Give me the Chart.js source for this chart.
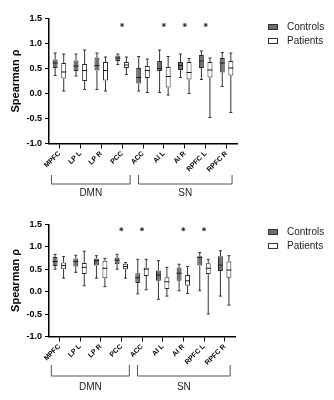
<!DOCTYPE html>
<html>
<head>
<meta charset="utf-8">
<script src="https://cdn.jsdelivr.net/npm/chart.js@4.4.0/dist/chart.umd.min.js"></script>
<style>
  html, body { margin: 0; padding: 0; background: #fff; }
  body { width: 334px; height: 400px; position: relative; overflow: hidden; font-family: "Liberation Sans", Arial, sans-serif; }
  canvas { position: absolute; left: 0; }
  .legend { position: absolute; left: 268px; font-size: 10px; color: #222; }
  .legend div { position: relative; height: 14.4px; line-height: 14.4px; padding-left: 19px; white-space: nowrap; }
  .legend span { position: absolute; left: 0; top: 4.5px; width: 8px; height: 4px; border: 1px solid #333; }
</style>
</head>
<body>
<canvas id="topChart" width="334" height="200" style="top:0"></canvas>
<canvas id="bottomChart" width="334" height="200" style="top:200px"></canvas>
<div class="legend" style="top:19.5px">
  <div><span style="background:#6f6f6f"></span>Controls</div>
  <div><span style="background:#fff"></span>Patients</div>
</div>
<div class="legend" style="top:224.5px">
  <div><span style="background:#6f6f6f"></span>Controls</div>
  <div><span style="background:#fff"></span>Patients</div>
</div>
<script>
// regions on the x axis and the networks they belong to
const categories = ["MPFC", "LP L", "LP R", "PCC", "ACC", "AI L", "AI R", "RPFC L", "RPFC R"];
const groupNames = ["DMN", "SN"];
const groupFirst = [0, 4];
const groupLast = [3, 8];
const yTicks = [-1.0, -0.5, 0.0, 0.5, 1.0, 1.5];

// each box is [min, q1, median, q3, max]
const topControls = [
  [0.36, 0.51, 0.61, 0.68, 0.81],
  [0.35, 0.45, 0.55, 0.66, 0.79],
  [0.08, 0.46, 0.56, 0.72, 0.81],
  [0.58, 0.65, 0.71, 0.76, 0.79],
  [0.05, 0.20, 0.32, 0.51, 0.74],
  [0.02, 0.45, 0.50, 0.65, 0.87],
  [0.32, 0.47, 0.56, 0.63, 0.79],
  [0.28, 0.51, 0.65, 0.77, 0.85],
  [0.14, 0.42, 0.61, 0.71, 0.82]
];
const topPatients = [
  [0.05, 0.30, 0.43, 0.61, 0.79],
  [0.08, 0.25, 0.46, 0.59, 0.87],
  [0.05, 0.26, 0.46, 0.63, 0.73],
  [0.38, 0.51, 0.57, 0.63, 0.73],
  [0.02, 0.31, 0.46, 0.55, 0.69],
  [-0.03, 0.12, 0.34, 0.53, 0.74],
  [0.00, 0.28, 0.42, 0.63, 0.70],
  [-0.48, 0.32, 0.47, 0.63, 0.71],
  [-0.38, 0.36, 0.51, 0.65, 0.81]
];
const topStars = [null, null, null, 1.37, null, 1.37, 1.37, 1.37, null];

const bottomControls = [
  [0.50, 0.57, 0.67, 0.77, 0.83],
  [0.43, 0.56, 0.67, 0.74, 0.81],
  [0.30, 0.58, 0.69, 0.74, 0.80],
  [0.50, 0.61, 0.70, 0.76, 0.83],
  [-0.05, 0.19, 0.31, 0.41, 0.72],
  [-0.17, 0.24, 0.37, 0.47, 0.69],
  [0.02, 0.24, 0.41, 0.54, 0.61],
  [0.02, 0.58, 0.76, 0.79, 0.87],
  [-0.10, 0.46, 0.59, 0.79, 0.91]
];
const bottomPatients = [
  [0.30, 0.50, 0.58, 0.65, 0.78],
  [0.13, 0.39, 0.54, 0.64, 0.90],
  [0.11, 0.30, 0.52, 0.69, 0.74],
  [0.30, 0.50, 0.56, 0.62, 0.65],
  [0.04, 0.35, 0.50, 0.54, 0.72],
  [-0.10, 0.06, 0.22, 0.32, 0.54],
  [-0.04, 0.13, 0.24, 0.37, 0.56],
  [-0.50, 0.39, 0.52, 0.63, 0.72],
  [-0.30, 0.31, 0.48, 0.67, 0.80]
];
const bottomStars = [null, null, null, 1.39, 1.39, null, 1.39, 1.39, null];

Chart.defaults.font.family = '"Liberation Sans", Arial, sans-serif';

// how far each bracket reaches past its first/last category centre (px)
const bracketPad = [[8, 8], [4.5, 5.5]];

// whiskers, caps and median lines on top of the floating bars
const boxWhiskers = {
  id: "boxWhiskers",
  afterDatasetsDraw(chart) {
    const ctx = chart.ctx;
    const y = chart.scales.y;
    [0, 1].forEach(di => {
      const ds = chart.data.datasets[di];
      chart.getDatasetMeta(di).data.forEach((bar, i) => {
        const [mn, q1, md, q3, mx] = ds.stats[i];
        const x = bar.x;
        const half = bar.width / 2;
        ctx.save();
        ctx.strokeStyle = "#333";
        ctx.lineWidth = 1;
        ctx.beginPath();
        ctx.moveTo(x, y.getPixelForValue(q3));
        ctx.lineTo(x, y.getPixelForValue(mx));
        ctx.moveTo(x, y.getPixelForValue(q1));
        ctx.lineTo(x, y.getPixelForValue(mn));
        ctx.moveTo(x - 1.5, y.getPixelForValue(mx));
        ctx.lineTo(x + 1.5, y.getPixelForValue(mx));
        ctx.moveTo(x - 1.5, y.getPixelForValue(mn));
        ctx.lineTo(x + 1.5, y.getPixelForValue(mn));
        ctx.stroke();
        ctx.beginPath();
        ctx.strokeStyle = "#1a1a1a";
        ctx.moveTo(x - half, y.getPixelForValue(md));
        ctx.lineTo(x + half, y.getPixelForValue(md));
        ctx.stroke();
        ctx.restore();
      });
    });
  }
};

// DMN / SN brackets under the rotated tick labels
const groupBrackets = {
  id: "groupBrackets",
  afterDraw(chart, args, opts) {
    const { ctx, chartArea, scales: { x } } = chart;
    const [dTop, dBot, dText] = opts.offsets;
    ctx.save();
    ctx.strokeStyle = "#555";
    ctx.lineWidth = 1;
    ctx.fillStyle = "#222";
    ctx.font = '10px "Liberation Sans", Arial, sans-serif';
    ctx.textAlign = "center";
    ctx.textBaseline = "middle";
    groupNames.forEach((name, g) => {
      const x0 = x.getPixelForValue(groupFirst[g]) - bracketPad[g][0];
      const x1 = x.getPixelForValue(groupLast[g]) + bracketPad[g][1];
      const yb = chartArea.bottom;
      ctx.beginPath();
      ctx.moveTo(x0, yb + dTop);
      ctx.lineTo(x0, yb + dBot);
      ctx.lineTo(x1, yb + dBot);
      ctx.lineTo(x1, yb + dTop);
      ctx.stroke();
      ctx.fillText(name, (x0 + x1) / 2, yb + dText);
    });
    ctx.restore();
  }
};

function makePanel(id, controls, patients, stars, geo) {
  const ctx = document.getElementById(id).getContext("2d");
  return new Chart(ctx, {
    type: "bar",
    data: {
      labels: categories,
      datasets: [
        {
          label: "Controls",
          data: controls.map(b => [b[1], b[3]]),
          stats: controls,
          backgroundColor: "#6f6f6f",
          borderColor: "#2a2a2a",
          borderWidth: 1,
          borderSkipped: false,
          categoryPercentage: 0.82,
          barPercentage: 0.58,
          order: 2
        },
        {
          label: "Patients",
          data: patients.map(b => [b[1], b[3]]),
          stats: patients,
          backgroundColor: "#ffffff",
          borderColor: "#2a2a2a",
          borderWidth: 1,
          borderSkipped: false,
          categoryPercentage: 0.82,
          barPercentage: 0.58,
          order: 2
        },
        {
          type: "line",
          label: "*",
          data: stars,
          showLine: false,
          pointStyle: "star",
          pointRadius: 2,
          pointBorderColor: "#333",
          pointBorderWidth: 1,
          pointBackgroundColor: "#333",
          order: 0
        }
      ]
    },
    options: {
      responsive: false,
      animation: false,
      events: [],
      layout: { padding: { left: 0, right: geo.right, top: geo.top, bottom: 0 } },
      plugins: {
        legend: { display: false },
        tooltip: { enabled: false },
        groupBrackets: { offsets: geo.brackets }
      },
      scales: {
        x: {
          grid: { offset: false, drawOnChartArea: false, tickLength: 5, color: "#000", lineWidth: 1 },
          border: { color: "#000", width: 1.5 },
          ticks: {
            color: "#000",
            font: { size: 7, weight: "bold" },
            minRotation: 45,
            maxRotation: 45,
            autoSkip: false,
            padding: 1
          },
          afterFit: s => { s.height = geo.xHeight; }
        },
        y: {
          min: -1,
          max: 1.5,
          afterBuildTicks: s => { s.ticks = yTicks.map(v => ({ value: v })); },
          grid: { drawOnChartArea: false, tickLength: 4, color: "#000", lineWidth: 1 },
          border: { color: "#000", width: 1.5 },
          ticks: {
            color: "#000",
            font: { size: 9, weight: "bold" },
            padding: 3,
            callback: v => Number(v).toFixed(1)
          },
          title: {
            display: true,
            text: "Spearman ρ",
            color: "#000",
            font: { size: 11, weight: "bold" },
            padding: { top: 9, bottom: 0 }
          },
          afterFit: s => { s.width = 49; }
        }
      }
    },
    plugins: [boxWhiskers, groupBrackets]
  });
}

makePanel("topChart", topControls, topPatients, topStars,
  { top: 18.5, right: 97, xHeight: 56.5, brackets: [31.5, 40.5, 49.5] });
makePanel("bottomChart", bottomControls, bottomPatients, bottomStars,
  { top: 24.3, right: 99, xHeight: 63.5, brackets: [28.5, 39.5, 50.5] });
</script>
</body>
</html>
